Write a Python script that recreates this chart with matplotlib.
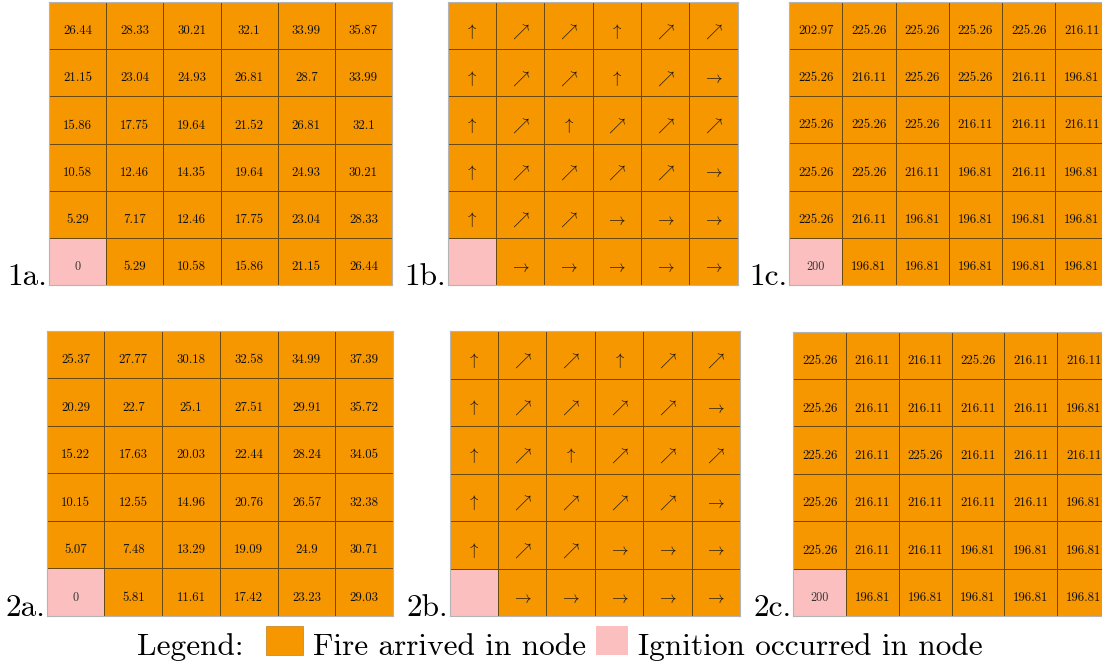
import numpy as np
import matplotlib
matplotlib.use("Agg")
import matplotlib.pyplot as plt
from matplotlib.colors import ListedColormap
from matplotlib.patches import Rectangle

plt.rcParams["font.family"] = ["cmr10", "DejaVu Serif"]
plt.rcParams["mathtext.fontset"] = "cm"
plt.rcParams["axes.unicode_minus"] = False

FIRE = "#F79700"
IGNITION = "#FBBFBF"
GRID_EDGE = "#6b4a10"

# Arrival times, scenario 1 (rows listed top to bottom)
arrival_1 = [
    [26.44, 28.33, 30.21, 32.1, 33.99, 35.87],
    [21.15, 23.04, 24.93, 26.81, 28.7, 33.99],
    [15.86, 17.75, 19.64, 21.52, 26.81, 32.1],
    [10.58, 12.46, 14.35, 19.64, 24.93, 30.21],
    [5.29, 7.17, 12.46, 17.75, 23.04, 28.33],
    [0, 5.29, 10.58, 15.86, 21.15, 26.44],
]
# Spread direction into each node, scenario 1 (U = up, D = diagonal, R = right)
direction_1 = [
    ["U", "D", "D", "U", "D", "D"],
    ["U", "D", "D", "U", "D", "R"],
    ["U", "D", "U", "D", "D", "D"],
    ["U", "D", "D", "D", "D", "R"],
    ["U", "D", "D", "R", "R", "R"],
    ["", "R", "R", "R", "R", "R"],
]
# Node intensity values, scenario 1
intensity_1 = [
    [202.97, 225.26, 225.26, 225.26, 225.26, 216.11],
    [225.26, 216.11, 225.26, 225.26, 216.11, 196.81],
    [225.26, 225.26, 225.26, 216.11, 216.11, 216.11],
    [225.26, 225.26, 216.11, 196.81, 216.11, 196.81],
    [225.26, 216.11, 196.81, 196.81, 196.81, 196.81],
    [200, 196.81, 196.81, 196.81, 196.81, 196.81],
]

# Arrival times, scenario 2
arrival_2 = [
    [25.37, 27.77, 30.18, 32.58, 34.99, 37.39],
    [20.29, 22.7, 25.1, 27.51, 29.91, 35.72],
    [15.22, 17.63, 20.03, 22.44, 28.24, 34.05],
    [10.15, 12.55, 14.96, 20.76, 26.57, 32.38],
    [5.07, 7.48, 13.29, 19.09, 24.9, 30.71],
    [0, 5.81, 11.61, 17.42, 23.23, 29.03],
]
direction_2 = [
    ["U", "D", "D", "U", "D", "D"],
    ["U", "D", "D", "D", "D", "R"],
    ["U", "D", "U", "D", "D", "D"],
    ["U", "D", "D", "D", "D", "R"],
    ["U", "D", "D", "R", "R", "R"],
    ["", "R", "R", "R", "R", "R"],
]
intensity_2 = [
    [225.26, 216.11, 216.11, 225.26, 216.11, 216.11],
    [225.26, 216.11, 216.11, 216.11, 216.11, 196.81],
    [225.26, 216.11, 225.26, 216.11, 216.11, 216.11],
    [225.26, 216.11, 216.11, 216.11, 216.11, 196.81],
    [225.26, 216.11, 216.11, 196.81, 196.81, 196.81],
    [200, 196.81, 196.81, 196.81, 196.81, 196.81],
]

# Ignition node (row from top, column)
ignition_node = (5, 0)

panel_labels = ["1a.", "1b.", "1c.", "2a.", "2b.", "2c."]
legend_labels = ["Fire arrived in node", "Ignition occurred in node"]

ARROW_TEX = {"U": r"$\uparrow$", "D": r"$\nearrow$", "R": r"$\rightarrow$", "": ""}

W, H = 1102, 665
fig = plt.figure(figsize=(W / 100, H / 100), dpi=100)


def px_axes(x0, y0, x1, y1):
    return fig.add_axes([x0 / W, 1 - y1 / H, (x1 - x0) / W, (y1 - y0) / H])


def draw_grid(ax, cells, kind):
    n = len(cells)
    state = np.ones((n, n))
    state[ignition_node] = 0
    # flip so the first listed row sits at the top
    ax.pcolormesh(np.arange(n + 1), np.arange(n + 1), state[::-1],
                  cmap=ListedColormap([IGNITION, FIRE]), vmin=0, vmax=1,
                  edgecolors=GRID_EDGE, linewidth=0.6)
    for r in range(n):
        for c in range(n):
            y = n - r - 0.5 - 0.12
            x = c + 0.5
            is_ign = (r, c) == ignition_node
            if kind == "dir":
                s = ARROW_TEX[cells[r][c]]
                ax.text(x, y, s, ha="center", va="center", fontsize=12, color="#111")
            else:
                s = f"{cells[r][c]:g}"
                ax.text(x, y, s, ha="center", va="center",
                        fontsize=8.8 if is_ign else 9.2,
                        color="#333333" if is_ign else "#111111")
    ax.set_xlim(0, n)
    ax.set_ylim(0, n)
    ax.set_xticks([])
    ax.set_yticks([])
    for sp in ax.spines.values():
        sp.set_color("#b4b4b4")
        sp.set_linewidth(0.8)


panels = [
    ((49, 2, 392, 285), arrival_1, "num"),
    ((447.5, 2, 737.7, 285), direction_1, "dir"),
    ((789.3, 1.5, 1108.5, 285), intensity_1, "num"),
    ((46.7, 330.7, 393, 616), arrival_2, "num"),
    ((449.7, 331, 740, 616), direction_2, "dir"),
    ((793.3, 331.7, 1110, 616), intensity_2, "num"),
]

for (box, cells, kind), label in zip(panels, panel_labels):
    ax = px_axes(*box)
    draw_grid(ax, cells, kind)
    fig.text((box[0] - 1.5) / W, 1 - box[3] / H, label, ha="right",
             va="baseline", fontsize=22.5)

# Legend row
base_y = 1 - 655 / H
fig.text(137 / W, base_y, "Legend:", ha="left", va="baseline", fontsize=22.5)
for (x0, x1), color, text in zip([(266, 303), (596, 628)], [FIRE, IGNITION], legend_labels):
    fig.patches.append(Rectangle((x0 / W, 1 - 655 / H), (x1 - x0) / W, 29 / H,
                                 transform=fig.transFigure, facecolor=color,
                                 edgecolor="#c98a30" if color == FIRE else "none",
                                 linewidth=0.6))
    fig.text((x1 + 10) / W, base_y, text, ha="left", va="baseline", fontsize=22.5)

fig.savefig("out.png", dpi=100)
